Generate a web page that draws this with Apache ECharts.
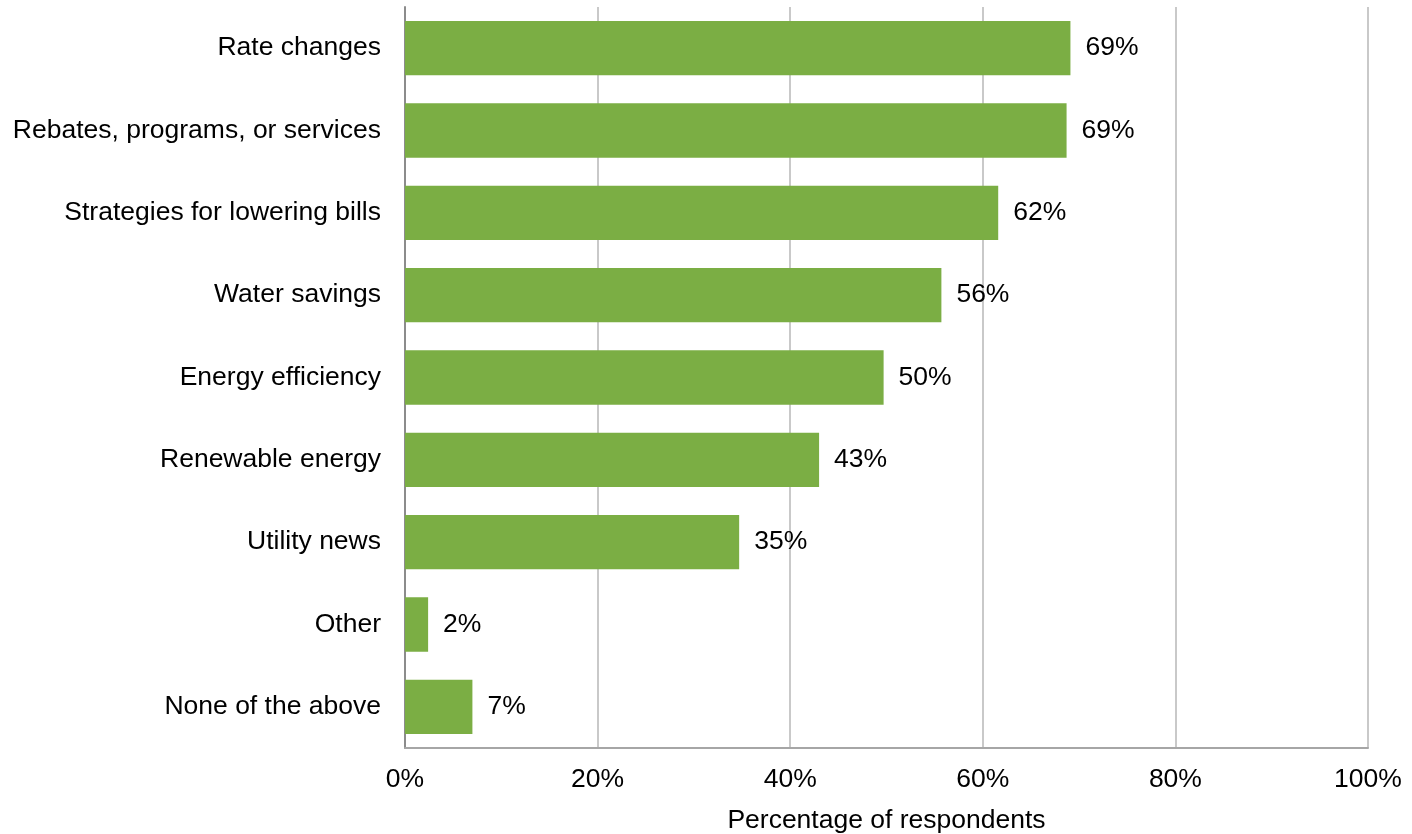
<!DOCTYPE html>
<html>
<head>
<meta charset="utf-8">
<script src="https://cdn.jsdelivr.net/npm/echarts@6/dist/echarts.min.js"></script>
<style>
  html, body { margin: 0; padding: 0; background: #fff; }
  #chart { width: 1412px; height: 834px; }
</style>
</head>
<body>
<div id="chart"></div>
<script>
// Information topics, listed top to bottom
const categories = [
  'Rate changes',
  'Rebates, programs, or services',
  'Strategies for lowering bills',
  'Water savings',
  'Energy efficiency',
  'Renewable energy',
  'Utility news',
  'Other',
  'None of the above'
];
// Share of respondents (%)
const values = [69.1, 68.7, 61.6, 55.7, 49.7, 43.0, 34.7, 2.4, 7.0];
const xTicks = [0, 20, 40, 60, 80, 100];

const font = 'Liberation Sans, Arial, sans-serif';
const fs = 26.5;
const chart = echarts.init(document.getElementById('chart'));
chart.setOption({
  animation: false,
  grid: { left: 405, right: 44, top: 7, bottom: 86, containLabel: false, outerBoundsMode: 'none' },
  xAxis: {
    type: 'value',
    min: xTicks[0],
    max: xTicks[xTicks.length - 1],
    interval: xTicks[1] - xTicks[0],
    name: 'Percentage of respondents',
    nameLocation: 'middle',
    nameGap: 59,
    nameTextStyle: { fontFamily: font, fontSize: fs, color: '#000' },
    axisLine: { show: true, lineStyle: { color: '#a6a6a6', width: 2 } },
    axisTick: { show: false },
    axisLabel: { fontFamily: font, fontSize: fs, color: '#000', margin: 18, formatter: v => v + '%' },
    splitLine: { show: true, lineStyle: { color: '#c9c9c9', width: 2 } }
  },
  yAxis: {
    type: 'category',
    data: categories,
    inverse: true,
    axisLine: { show: true, lineStyle: { color: '#8c8c8c', width: 2 } },
    axisTick: { show: false },
    axisLabel: { fontFamily: font, fontSize: fs, color: '#000', margin: 24, padding: [4, 0, 0, 0] }
  },
  series: [{
    type: 'bar',
    data: values,
    barCategoryGap: '34%',
    itemStyle: { color: '#7bae44' },
    label: {
      show: true,
      position: 'right',
      distance: 15,
      padding: [4, 0, 0, 0],
      fontFamily: font,
      fontSize: fs,
      color: '#000',
      formatter: p => Math.round(p.value) + '%'
    }
  }]
});
</script>
</body>
</html>
